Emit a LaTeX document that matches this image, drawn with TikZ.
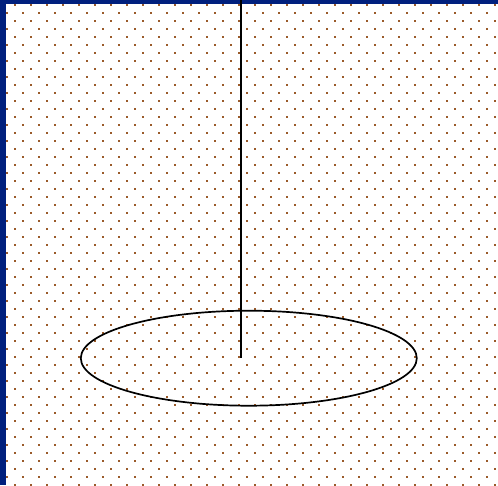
\documentclass[tikz,border=0pt]{standalone}
\usepackage{tikz}
\definecolor{FrameBlue}{HTML}{00207E}
\definecolor{DotBrown}{HTML}{9A5A2A}

\begin{document}
\begin{tikzpicture}[x=1pt,y=-1pt]
                \useasboundingbox (0,0) rectangle (498,485);

                % Dotted paper
                \fill[white] (0,0) rectangle (498,485);
                \foreach \row in {0,...,60}{
                    \pgfmathsetmacro{\yy}{5+8*\row}
                    \pgfmathsetmacro{\xoff}{mod(\row,2)==0 ? 15 : 7}
                    \foreach \col in {0,...,30}{
                        \fill[DotBrown] ({\xoff+16*\col-1},{\yy-1}) rectangle ++(2,2);
                    }
                }

                % Frame bands
                \fill[FrameBlue] (0,0) rectangle (498,4);
                \fill[FrameBlue] (0,0) rectangle (6,485);

                % Axis and ellipse
                \coordinate (top) at (240.7,0);
                \coordinate (centre) at (240.7,358);
                \draw[line width=1.7pt] (top) -- (centre);
                \draw[line width=1.7pt] (248.8,358.2) ellipse (168 and 47.5);
\end{tikzpicture}
\end{document}
